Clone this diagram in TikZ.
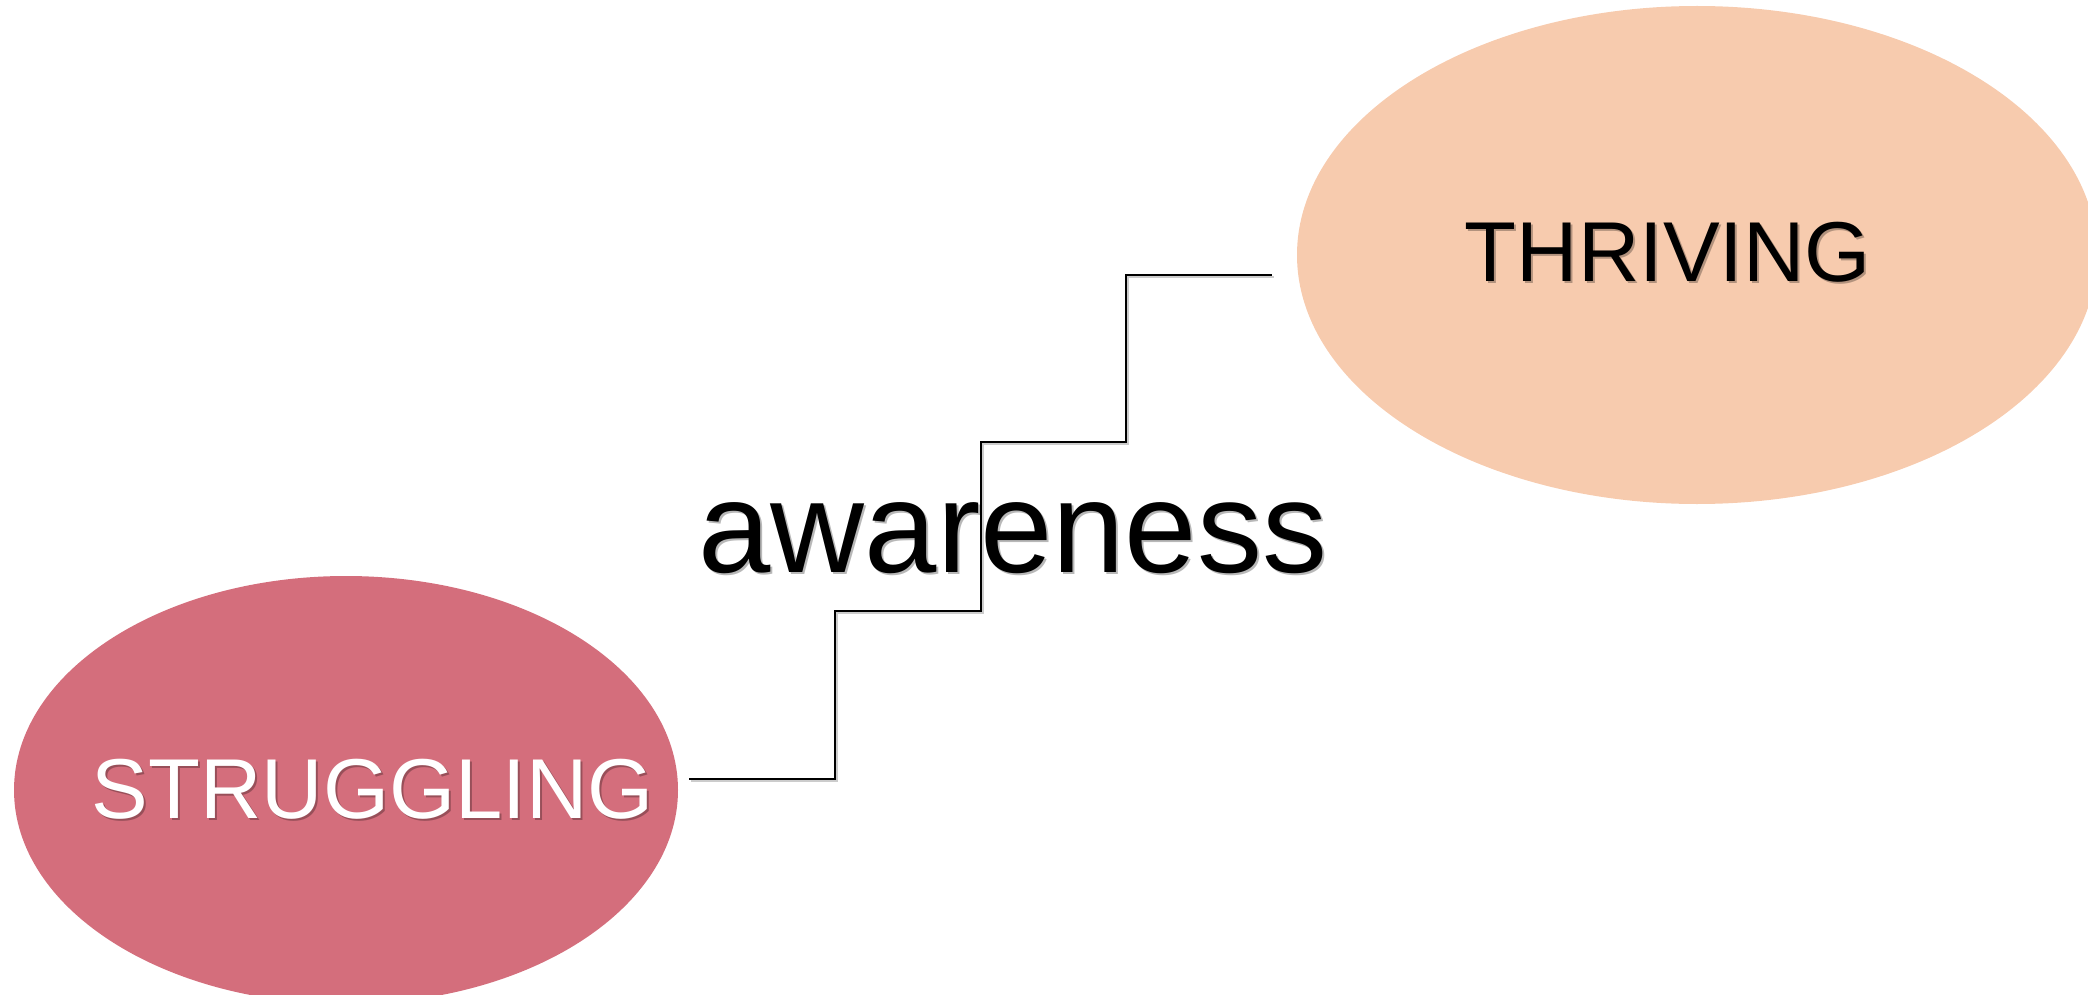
\documentclass[tikz,border=0pt]{standalone}
\usepackage{fontspec}
\setmainfont{Liberation Sans}
\usetikzlibrary{shapes.geometric}
\definecolor{strugglefill}{RGB}{212,110,124}
\definecolor{thrivefill}{RGB}{247,203,174}
\begin{document}
\begin{tikzpicture}[x=1pt,y=-1pt,
  blob/.style={ellipse,inner sep=0pt,outer sep=0pt,draw=none},
  stateword/.style={anchor=base,inner sep=0pt,font=\fontsize{85}{100}\selectfont},
  bigword/.style={anchor=base,inner sep=0pt,font=\fontsize{130}{150}\selectfont},
  softshadow/.style={text=black,opacity=0.28},
  stair/.style={draw=black,line width=1.8pt,line join=miter},
  stairshadow/.style={draw=black!40,line width=1.8pt,opacity=0.5}
]
\useasboundingbox (0,0) rectangle (2088,995);
\clip (0,0) rectangle (2088,995);

% the two states
\node[blob,fill=strugglefill,minimum width=664pt,minimum height=428pt] (struggle) at (346,790) {};
\node[blob,fill=thrivefill,minimum width=800pt,minimum height=498pt] (thrive) at (1697,255) {};

% state labels with a soft drop shadow
\node[stateword,softshadow] (struggleshadow) at (375,820) {STRUGGLING};
\node[stateword,text=white] (struggletext) at (373,818) {STRUGGLING};
\node[stateword,softshadow] (thriveshadow) at (1670,283) {THRIVING};
\node[stateword,text=black] (thrivetext) at (1668,281) {THRIVING};

% the staircase between them
\coordinate (stairfoot) at (689,779);
\coordinate (stairtop) at (1272,275);
\draw[stairshadow] ([shift={(2,2)}]stairfoot) -- ++(146,0) -- ++(0,-168) -- ++(146,0) -- ++(0,-169) -- ++(145,0) -- ++(0,-167) -- ([shift={(2,2)}]stairtop);
\draw[stair] (stairfoot) -- ++(146,0) -- ++(0,-168) -- ++(146,0) -- ++(0,-169) -- ++(145,0) -- ++(0,-167) -- (stairtop);

% central word
\node[bigword,softshadow] (awareshadow) at (1015,574) {awareness};
\node[bigword,text=black] (awaretext) at (1013,572) {awareness};
\end{tikzpicture}
\end{document}
